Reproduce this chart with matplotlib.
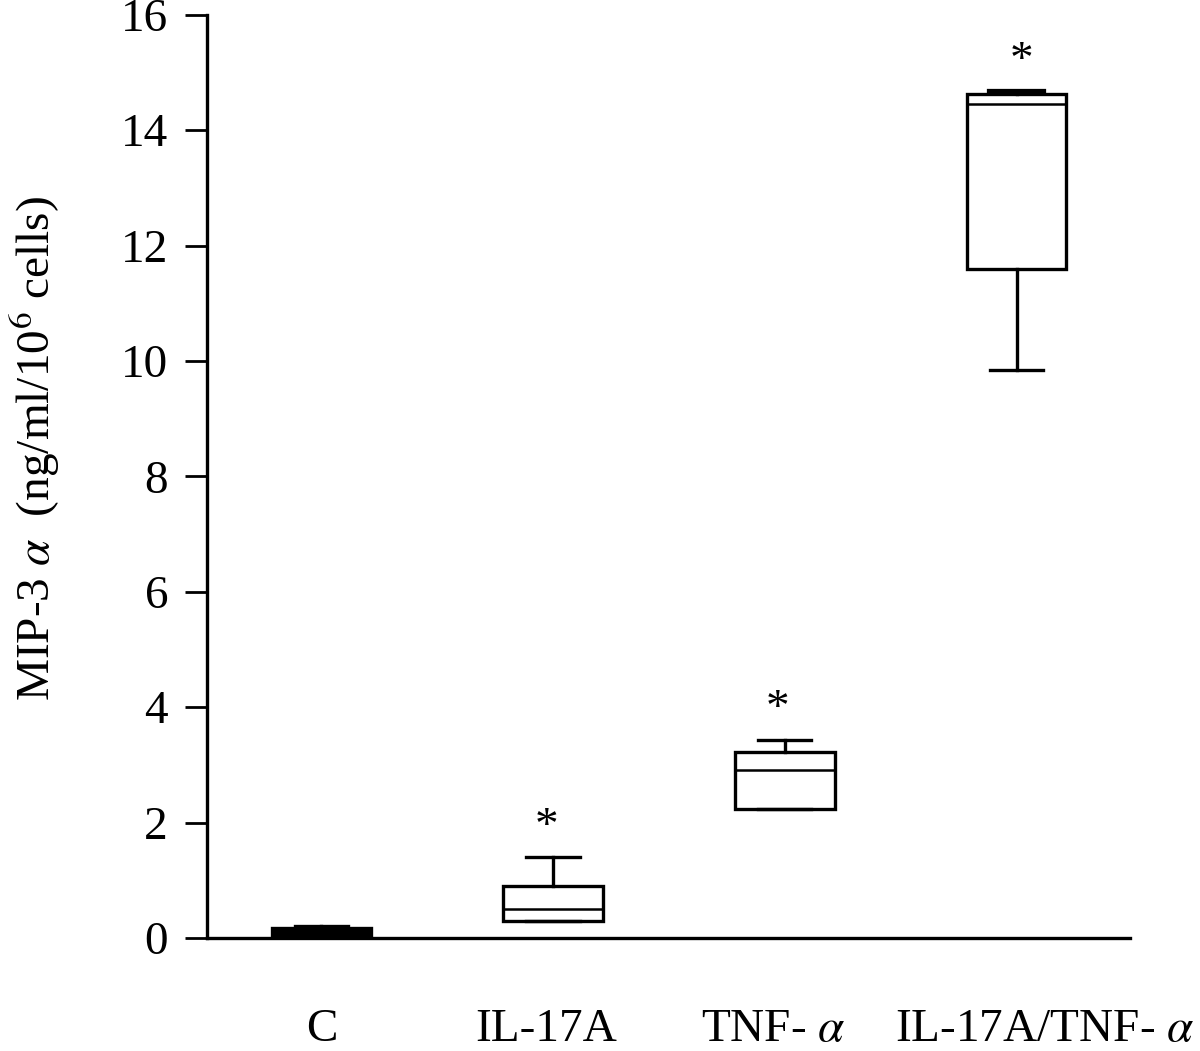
import matplotlib
matplotlib.use("Agg")
import matplotlib.pyplot as plt
from matplotlib.transforms import blended_transform_factory

plt.rcParams['font.family'] = ['Liberation Serif', 'DejaVu Serif']
plt.rcParams['mathtext.fontset'] = 'stix'

categories = ["C", "IL-17A", r"TNF- $\alpha$", r"IL-17A/TNF- $\alpha$"]
whislo = [0.02, 0.29, 2.23, 9.84]
q1 = [0.03, 0.29, 2.23, 11.59]
med = [0.10, 0.50, 2.92, 14.46]
q3 = [0.18, 0.90, 3.22, 14.62]
whishi = [0.20, 1.40, 3.44, 14.66]
significant = [False, True, True, True]
yticks = [0, 2, 4, 6, 8, 10, 12, 14, 16]

fig = plt.figure(figsize=(12, 10.51), dpi=100)
ax = fig.add_axes([0.1725, 0.1075, 0.7692, 0.8785])

positions = list(range(1, len(categories) + 1))
stats = []
for i, lab in enumerate(categories):
    stats.append(dict(label=lab, whislo=whislo[i], q1=q1[i], med=med[i],
                      q3=q3[i], whishi=whishi[i], fliers=[]))

lw = 2.4
bp = ax.bxp(stats, positions=positions, widths=0.43, capwidths=0.23,
            showfliers=False, patch_artist=True,
            boxprops=dict(facecolor='white', edgecolor='black', linewidth=lw),
            medianprops=dict(color='black', linewidth=1.8),
            whiskerprops=dict(color='black', linewidth=lw),
            capprops=dict(color='black', linewidth=lw))
# control group box appears solid black
bp['boxes'][0].set_facecolor('black')
bp['caps'][7].set_linewidth(4.5)

star_dx = [0.0, -0.03, -0.03, 0.02]
for i, s in enumerate(significant):
    if s:
        ax.text(positions[i] + star_dx[i], whishi[i] + 0.15, "*", ha='center', va='bottom',
                fontsize=34)

ax.set_xlim(0.506, 4.49)
ax.set_ylim(0, 16)
ax.set_yticks(yticks)
ax.set_yticklabels([str(t) for t in yticks], fontsize=34)
ax.tick_params(axis='y', direction='out', length=16, width=2, pad=12)
ax.set_xticks([])

label_offsets = [0.0, -0.03, -0.05, 0.12]
trans = blended_transform_factory(ax.transData, ax.transAxes)
for i, lab in enumerate(categories):
    ax.text(positions[i] + label_offsets[i], -0.076, lab, transform=trans,
            ha='center', va='top', fontsize=34)

ax.spines['top'].set_visible(False)
ax.spines['right'].set_visible(False)
ax.spines['left'].set_linewidth(2.4)
ax.spines['bottom'].set_linewidth(2.4)

ax.set_ylabel(r"MIP-3 $\alpha$  (ng/ml/10$^6$ cells)", fontsize=34)
ax.yaxis.set_label_coords(-0.157, 0.53)

fig.savefig("out.png", dpi=100)
